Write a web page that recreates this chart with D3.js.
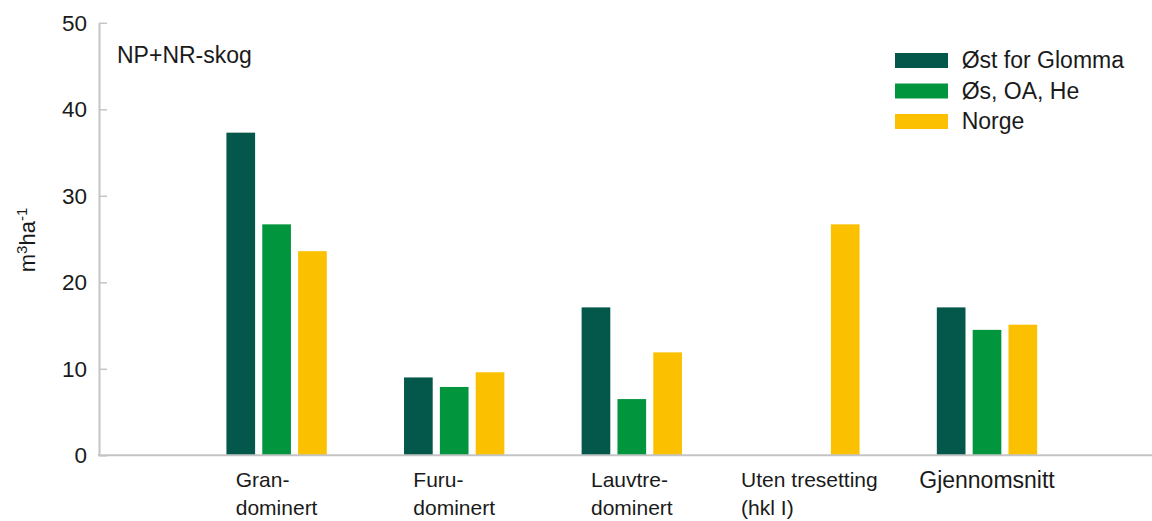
<!DOCTYPE html>
<html>
<head>
<meta charset="utf-8">
<script src="https://cdn.jsdelivr.net/npm/d3@7"></script>
<style>
  html, body { margin: 0; padding: 0; background: #fff; }
  svg { display: block; font-family: "Liberation Sans", Arial, sans-serif; }
</style>
</head>
<body>
<svg id="chart" width="1152" height="521"></svg>
<script>
// ---- data ----
const categories = ["Gran-dominert", "Furu-dominert", "Lauvtre-dominert", "Uten tresetting (hkl I)", "Gjennomsnitt"];
const categoryLines = [["Gran-", "dominert"], ["Furu-", "dominert"], ["Lauvtre-", "dominert"], ["Uten tresetting", "(hkl I)"], ["Gjennomsnitt"]];
const seriesNames = ["Øst for Glomma", "Øs, OA, He", "Norge"];
const ostForGlomma = [37.3, 9.0, 17.1, null, 17.1];
const osOaHe = [26.7, 7.9, 6.5, null, 14.5];
const norge = [23.6, 9.6, 11.9, 26.7, 15.1];
const yTicks = [0, 10, 20, 30, 40, 50];
const seriesColors = ["#03574b", "#01963e", "#fbc000"];

const seriesValues = [ostForGlomma, osOaHe, norge];

const svg = d3.select("#chart");
const axisColor = "#c4c4c4";
const textColor = "#1a1a1a";

const x0 = d3.scaleBand()
  .domain(categories)
  .range([187.8, 1075.8])
  .paddingInner(0.435)
  .paddingOuter(0.2175);

const x1 = d3.scaleBand()
  .domain(seriesNames)
  .range([0, x0.bandwidth()])
  .paddingInner(0.2)
  .paddingOuter(0);

const y = d3.scaleLinear().domain([0, 50]).range([455.3, 22.8]);

const color = d3.scaleOrdinal().domain(seriesNames).range(seriesColors);

// bars
const groups = svg.append("g").selectAll("g")
  .data(categories)
  .join("g")
  .attr("transform", d => `translate(${x0(d)},0)`);

groups.selectAll("rect")
  .data((d, i) => seriesNames.map((s, j) => ({ s, v: seriesValues[j][i] })).filter(e => e.v != null))
  .join("rect")
  .attr("x", d => x1(d.s))
  .attr("width", x1.bandwidth())
  .attr("y", d => y(d.v))
  .attr("height", d => y(0) - y(d.v))
  .attr("fill", d => color(d.s));

// y axis
const yAxis = svg.append("g")
  .attr("transform", "translate(99,0)")
  .call(d3.axisLeft(y).tickValues(yTicks).tickSize(-8).tickSizeOuter(0).tickPadding(12));
yAxis.select(".domain").attr("stroke", axisColor).attr("stroke-width", 2);
yAxis.selectAll(".tick line").attr("stroke", axisColor).attr("stroke-width", 1.5);
yAxis.selectAll(".tick text")
  .attr("font-size", 22.5)
  .attr("fill", textColor)
  .attr("font-family", "Liberation Sans, Arial, sans-serif");

// x axis line
svg.append("line")
  .attr("x1", 98).attr("x2", 1152)
  .attr("y1", y(0)).attr("y2", y(0))
  .attr("stroke", axisColor).attr("stroke-width", 2);

// x axis labels via axisBottom
const xAxis = svg.append("g")
  .attr("transform", `translate(0,${y(0)})`)
  .call(d3.axisBottom(x0).tickSize(0).tickPadding(0));
xAxis.select(".domain").remove();
xAxis.selectAll(".tick").each(function(d, i) {
  const t = d3.select(this).select("text");
  const lines = categoryLines[i];
  const fs = lines.length === 1 ? 23 : 21;
  t.text(null)
    .attr("dy", null)
    .attr("y", 0)
    .attr("font-size", fs)
    .attr("fill", textColor)
    .attr("font-family", "Liberation Sans, Arial, sans-serif")
    .attr("text-anchor", "start");
  lines.forEach((ln, k) => {
    t.append("tspan").attr("y", (lines.length === 1 ? 33 : 31.4) + k * 28.3).text(ln);
  });
  let maxW = 0;
  t.selectAll("tspan").each(function() { maxW = Math.max(maxW, this.getComputedTextLength()); });
  t.selectAll("tspan").attr("x", -maxW / 2);
});

// y axis title
const yTitle = svg.append("text")
  .attr("transform", "translate(35,240) rotate(-90)")
  .attr("text-anchor", "middle")
  .attr("font-size", 22)
  .attr("fill", textColor);
yTitle.append("tspan").text("m");
yTitle.append("tspan").attr("font-size", 15).attr("dy", -8).text("3");
yTitle.append("tspan").attr("dy", 8).text("ha");
yTitle.append("tspan").attr("font-size", 15).attr("dy", -8).text("-1");

// panel title
svg.append("text")
  .attr("x", 117).attr("y", 63.3)
  .attr("font-size", 23)
  .attr("fill", textColor)
  .text("NP+NR-skog");

// legend
const legend = svg.append("g").attr("transform", "translate(895,0)");
const legendRows = legend.selectAll("g")
  .data(seriesNames)
  .join("g")
  .attr("transform", (d, i) => `translate(0,${60.5 + i * 30.5})`);
legendRows.append("rect")
  .attr("x", 0).attr("y", -7.5)
  .attr("width", 53).attr("height", 15)
  .attr("fill", d => color(d));
legendRows.append("text")
  .attr("x", 66.7).attr("y", 7.8)
  .attr("font-size", 23)
  .attr("fill", textColor)
  .text(d => d);
</script>
</body>
</html>
